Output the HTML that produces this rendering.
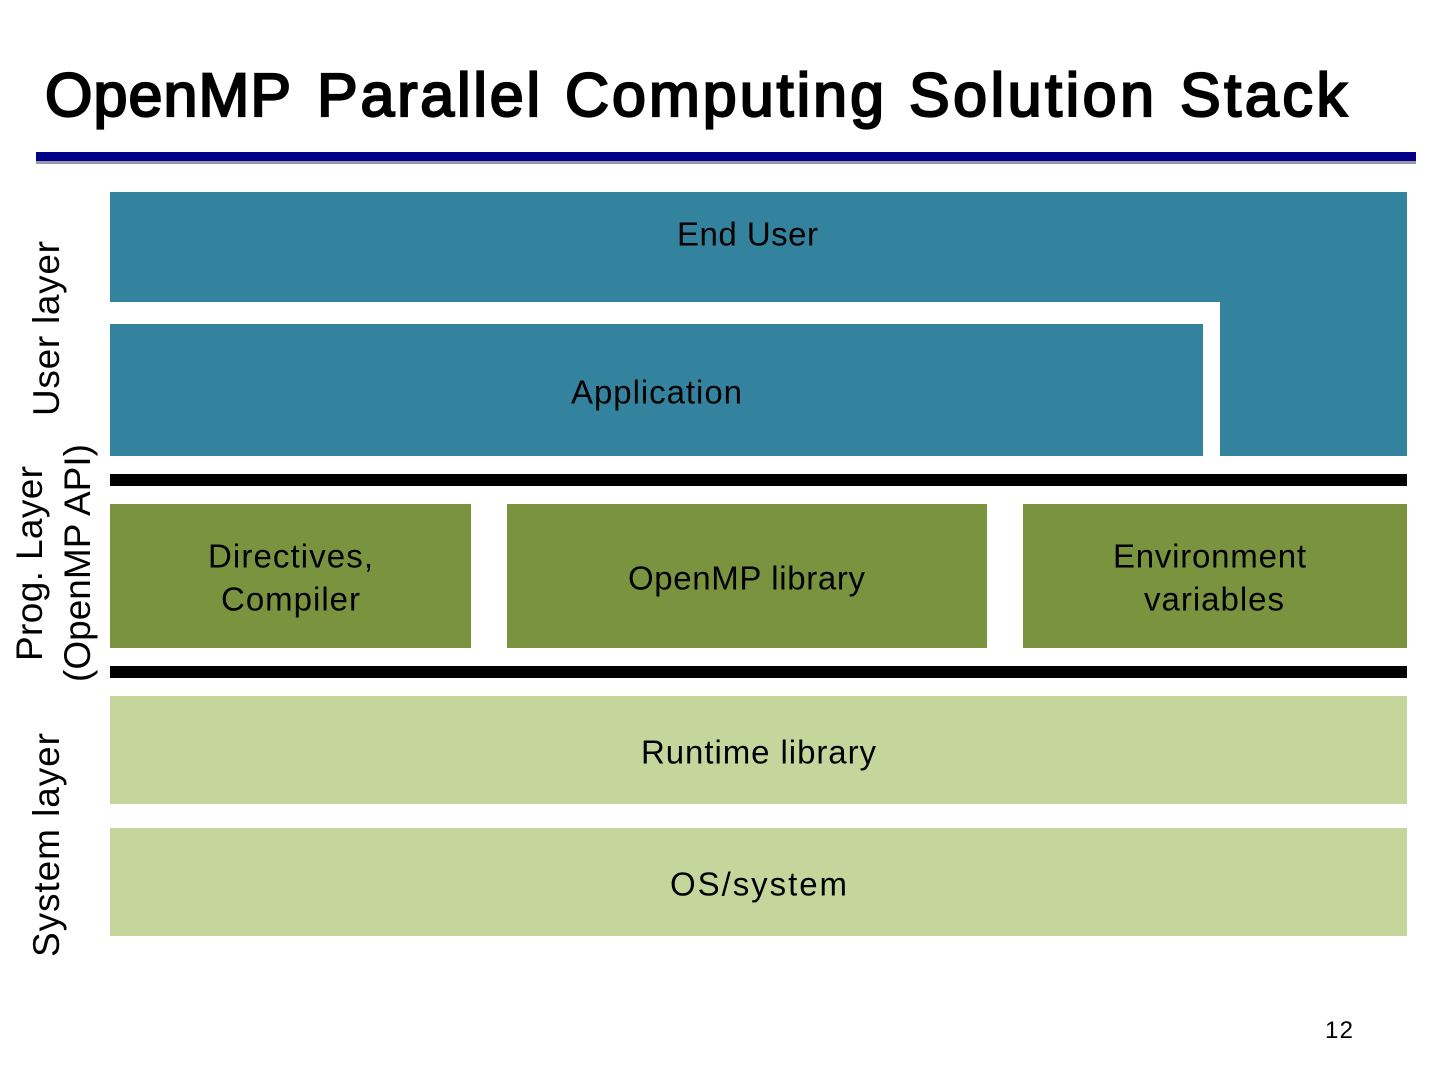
<!DOCTYPE html>
<html><head><meta charset="utf-8"><style>
html,body{margin:0;padding:0;background:#fff}
svg{display:block}
text{font-family:"Liberation Sans",sans-serif;fill:#000}
</style></head><body>
<svg width="1440" height="1080" viewBox="0 0 1440 1080" xmlns="http://www.w3.org/2000/svg">
<rect width="1440" height="1080" fill="#fff"/>
<g font-size="61" stroke="#000" stroke-width="2.2">
<text x="45" y="116" textLength="246" lengthAdjust="spacing">OpenMP</text>
<text x="317" y="116" textLength="223" lengthAdjust="spacing">Parallel</text>
<text x="565" y="116" textLength="319" lengthAdjust="spacing">Computing</text>
<text x="909" y="116" textLength="245" lengthAdjust="spacing">Solution</text>
<text x="1180" y="116" textLength="167" lengthAdjust="spacing">Stack</text>
</g>
<rect x="36" y="152" width="1380" height="9" fill="#000088"/>
<rect x="36" y="161" width="1380" height="3" fill="#9a9aa6"/>
<path d="M110 192H1407V456H1220V302H110Z" fill="#33839e"/>
<rect x="110" y="324" width="1093" height="132" fill="#33839e"/>
<rect x="110" y="474" width="1297" height="12" fill="#000"/>
<rect x="110" y="666" width="1297" height="12" fill="#000"/>
<rect x="110" y="504" width="361" height="144" fill="#7a933e"/>
<rect x="507" y="504" width="480" height="144" fill="#7a933e"/>
<rect x="1023" y="504" width="384" height="144" fill="#7a933e"/>
<rect x="110" y="696" width="1297" height="108" fill="#c4d69b"/>
<rect x="110" y="828" width="1297" height="108" fill="#c4d69b"/>
<g font-size="33">
<text x="677" y="245.5" textLength="141" lengthAdjust="spacing">End User</text>
<text x="571" y="403.5" textLength="171" lengthAdjust="spacing">Application</text>
<text x="208" y="567.5" textLength="165" lengthAdjust="spacing">Directives,</text>
<text x="221" y="610.5" textLength="139" lengthAdjust="spacing">Compiler</text>
<text x="628" y="589.5" textLength="237" lengthAdjust="spacing">OpenMP library</text>
<text x="1113" y="567.5" textLength="193" lengthAdjust="spacing">Environment</text>
<text x="1144" y="610.5" textLength="140" lengthAdjust="spacing">variables</text>
<text x="641" y="763.5" textLength="235" lengthAdjust="spacing">Runtime library</text>
<text x="670" y="895.5" textLength="177" lengthAdjust="spacing">OS/system</text>
</g>
<g font-size="37">
<text transform="translate(59 416) rotate(-90)" textLength="175" lengthAdjust="spacing">User layer</text>
<text transform="translate(42 661) rotate(-90)" textLength="195" lengthAdjust="spacing">Prog. Layer</text>
<text transform="translate(90 682) rotate(-90)" textLength="238" lengthAdjust="spacing">(OpenMP API)</text>
<text transform="translate(59 957) rotate(-90)" textLength="224" lengthAdjust="spacing">System layer</text>
</g>
<text x="1325" y="1038" font-size="24" textLength="28" lengthAdjust="spacing" fill="#222">12</text>
</svg>
</body></html>
